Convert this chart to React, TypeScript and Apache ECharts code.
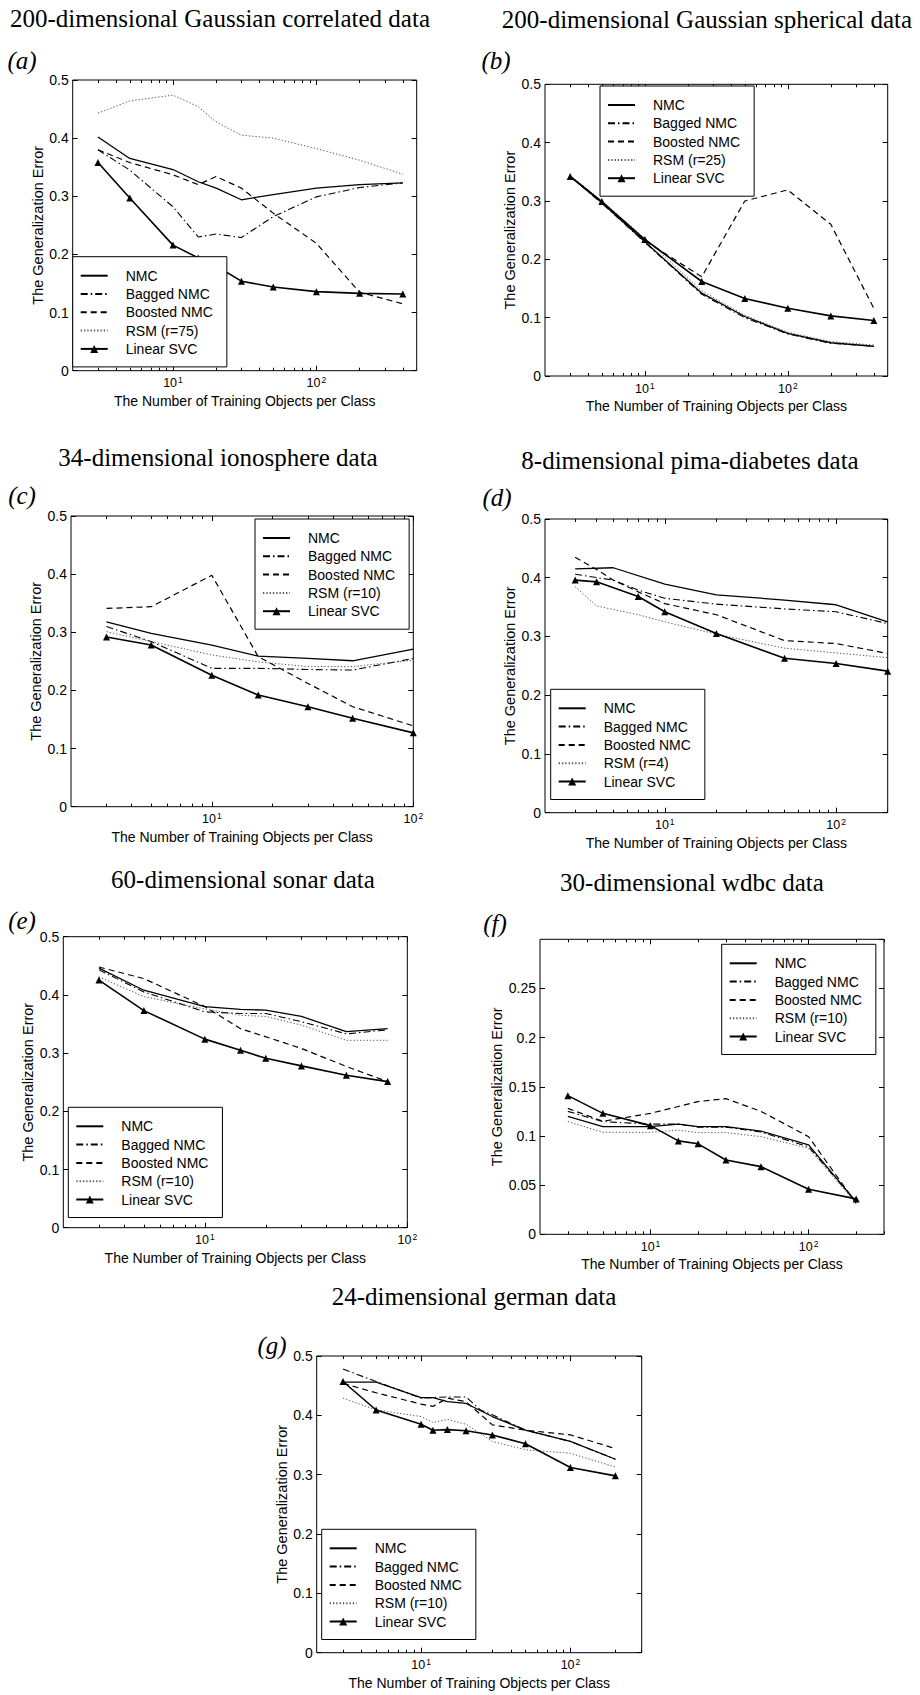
import React, { useEffect, useRef } from 'react';
import * as echarts from 'echarts';

const SANS = '"Liberation Sans", Arial, Helvetica, sans-serif';
const SERIF = '"Liberation Serif", "Times New Roman", serif';

// ---------- data ----------
const TITLES = [
  '200-dimensional Gaussian correlated data',
  '200-dimensional Gaussian spherical data',
  '34-dimensional ionosphere data',
  '8-dimensional pima-diabetes data',
  '60-dimensional sonar data',
  '30-dimensional wdbc data',
  '24-dimensional german data',
];
const LETTERS = ['(a)', '(b)', '(c)', '(d)', '(e)', '(f)', '(g)'];
const RSM_NAMES = ['RSM (r=75)', 'RSM (r=25)', 'RSM (r=10)', 'RSM (r=4)', 'RSM (r=10)', 'RSM (r=10)', 'RSM (r=10)'];
const X_MAX = [500, 500, 100, 200, 100, 300, 300];
const Y_MAX = [0.5, 0.5, 0.5, 0.5, 0.5, 0.3, 0.5];
const Y_STEP = [0.1, 0.1, 0.1, 0.1, 0.1, 0.05, 0.1];
const X_TICKS = [10, 100];
const X_MINOR = [3, 4, 5, 6, 7, 8, 9, 20, 30, 40, 50, 60, 70, 80, 90, 200, 300, 400];
const X_NAME = 'The Number of Training Objects per Class';
const Y_NAME = 'The Generalization Error';

// (a) Gaussian correlated
const A_X = [3, 5, 10, 15, 20, 30, 50, 100, 200, 400];
const A_NMC = [0.402, 0.365, 0.346, 0.325, 0.314, 0.294, 0.303, 0.314, 0.320, 0.323];
const A_BAG = [0.380, 0.345, 0.282, 0.230, 0.235, 0.229, 0.265, 0.299, 0.315, 0.323];
const A_BOO = [0.380, 0.358, 0.337, 0.320, 0.334, 0.314, 0.271, 0.219, 0.135, 0.115];
const A_RSM = [0.443, 0.464, 0.474, 0.454, 0.428, 0.405, 0.400, 0.382, 0.362, 0.338];
const A_SVC = [0.358, 0.297, 0.216, 0.194, 0.180, 0.154, 0.144, 0.136, 0.133, 0.132];

// (b) Gaussian spherical
const B_X = [3, 5, 10, 25, 50, 100, 200, 400];
const B_NMC = [0.342, 0.297, 0.230, 0.142, 0.102, 0.073, 0.057, 0.051];
const B_BAG = [0.342, 0.296, 0.229, 0.140, 0.100, 0.072, 0.056, 0.051];
const B_BOO = [0.342, 0.298, 0.232, 0.170, 0.300, 0.319, 0.260, 0.116];
const B_RSM = [0.344, 0.300, 0.236, 0.146, 0.104, 0.075, 0.059, 0.053];
const B_SVC = [0.342, 0.299, 0.234, 0.162, 0.133, 0.116, 0.103, 0.095];

// (c) ionosphere
const C_X = [3, 5, 10, 17, 30, 50, 100];
const C_NMC = [0.318, 0.298, 0.278, 0.259, 0.255, 0.251, 0.271];
const C_BAG = [0.310, 0.284, 0.238, 0.238, 0.236, 0.235, 0.255];
const C_BOO = [0.341, 0.344, 0.398, 0.258, 0.212, 0.172, 0.139];
const C_RSM = [0.301, 0.284, 0.261, 0.249, 0.241, 0.241, 0.252];
const C_SVC = [0.292, 0.278, 0.226, 0.192, 0.172, 0.152, 0.127];

// (d) pima-diabetes
const D_X_NMC = [3, 5, 10, 20, 50, 100, 200];
const D_NMC = [0.415, 0.417, 0.389, 0.371, 0.362, 0.354, 0.325];
const D_X_BAG = [3, 5, 7, 10, 20, 50, 100, 200];
const D_BAG = [0.406, 0.396, 0.379, 0.365, 0.355, 0.347, 0.342, 0.322];
const D_X_BOO = [3, 4, 5, 7, 10, 20, 50, 100, 200];
const D_BOO = [0.435, 0.414, 0.396, 0.376, 0.356, 0.337, 0.293, 0.288, 0.271];
const D_X = [3, 4, 7, 10, 20, 50, 100, 200];
const D_RSM = [0.385, 0.352, 0.337, 0.325, 0.304, 0.280, 0.272, 0.264];
const D_SVC = [0.396, 0.393, 0.368, 0.342, 0.305, 0.263, 0.254, 0.241];

// (e) sonar
const E_X = [3, 5, 10, 15, 20, 30, 50, 80];
const E_NMC = [0.446, 0.408, 0.380, 0.375, 0.374, 0.363, 0.337, 0.342];
const E_BAG = [0.443, 0.405, 0.371, 0.368, 0.368, 0.354, 0.333, 0.340];
const E_BOO = [0.448, 0.428, 0.380, 0.342, 0.328, 0.308, 0.277, 0.251];
const E_RSM = [0.431, 0.397, 0.376, 0.365, 0.363, 0.348, 0.322, 0.322];
const E_SVC = [0.4255, 0.373, 0.324, 0.305, 0.291, 0.278, 0.262, 0.251];

// (f) wdbc
const F_X = [3, 5, 10, 15, 20, 30, 50, 100, 200];
const F_NMC = [0.120, 0.1095, 0.1095, 0.112, 0.1095, 0.1095, 0.105, 0.091, 0.033];
const F_BAG = [0.125, 0.1146, 0.112, 0.112, 0.109, 0.109, 0.104, 0.089, 0.033];
const F_BOO = [0.128, 0.115, 0.123, 0.130, 0.135, 0.138, 0.125, 0.0993, 0.0315];
const F_RSM = [0.1146, 0.1037, 0.1037, 0.106, 0.1034, 0.1034, 0.0993, 0.0875, 0.0315];
const F_SVC = [0.141, 0.123, 0.1105, 0.095, 0.092, 0.0756, 0.0688, 0.0458, 0.036];

// (g) german
const G_X = [3, 5, 10, 12, 15, 20, 30, 50, 100, 200];
const G_NMC = [0.456, 0.456, 0.430, 0.430, 0.423, 0.420, 0.398, 0.375, 0.356, 0.326];
const G_X_BAG = [3, 5, 10, 12, 15, 20, 25, 30, 50, 100, 200];
const G_BAG = [0.478, 0.457, 0.429, 0.430, 0.431, 0.431, 0.409, 0.401, 0.375, 0.356, 0.326];
const G_BOO = [0.454, 0.438, 0.419, 0.415, 0.429, 0.423, 0.384, 0.375, 0.367, 0.344];
const G_RSM = [0.429, 0.409, 0.398, 0.388, 0.393, 0.385, 0.356, 0.342, 0.336, 0.313];
const G_SVC = [0.457, 0.409, 0.385, 0.375, 0.376, 0.374, 0.367, 0.352, 0.312, 0.298];

const PANEL_DATA = [
  [[A_X, A_NMC], [A_X, A_BAG], [A_X, A_BOO], [A_X, A_RSM], [A_X, A_SVC]],
  [[B_X, B_NMC], [B_X, B_BAG], [B_X, B_BOO], [B_X, B_RSM], [B_X, B_SVC]],
  [[C_X, C_NMC], [C_X, C_BAG], [C_X, C_BOO], [C_X, C_RSM], [C_X, C_SVC]],
  [[D_X_NMC, D_NMC], [D_X_BAG, D_BAG], [D_X_BOO, D_BOO], [D_X, D_RSM], [D_X, D_SVC]],
  [[E_X, E_NMC], [E_X, E_BAG], [E_X, E_BOO], [E_X, E_RSM], [E_X, E_SVC]],
  [[F_X, F_NMC], [F_X, F_BAG], [F_X, F_BOO], [F_X, F_RSM], [F_X, F_SVC]],
  [[G_X, G_NMC], [G_X_BAG, G_BAG], [G_X, G_BOO], [G_X, G_RSM], [G_X, G_SVC]],
];

// ---------- layout (pixels) ----------
const LAYOUT = [
  { grid: [72.7, 80, 344, 290.7], legend: [72.7, 256.7], title: [220, 18.5], letter: [22, 60], yGap: 24 },
  { grid: [545, 84.3, 342.7, 291.7], legend: [600, 86], title: [707, 19], letter: [496, 60], yGap: 24 },
  { grid: [71, 516, 342.3, 290.7], legend: [255, 519], title: [218, 457], letter: [22, 495], yGap: 24 },
  { grid: [545, 519, 342.7, 293.7], legend: [550.7, 689.3], title: [690, 460], letter: [497, 497], yGap: 24 },
  { grid: [63.3, 936.7, 344, 291], legend: [68.3, 1107.3], title: [243, 879], letter: [22, 920], yGap: 24 },
  { grid: [540, 939.3, 344, 295], legend: [721.7, 944.3], title: [692, 882.7], letter: [495, 923], yGap: 30 },
  { grid: [316.7, 1356, 325, 296.7], legend: [321.7, 1529.3], title: [474, 1296.7], letter: [272, 1345], yGap: 23 },
];

const STYLES = [
  { symbol: 'none', lineStyle: { color: '#000', width: 1.3, type: 'solid' }, itemStyle: { color: '#000' } },
  { symbol: 'none', lineStyle: { color: '#000', width: 1.1, type: [7, 3, 1.5, 3] }, itemStyle: { color: '#000' } },
  { symbol: 'none', lineStyle: { color: '#000', width: 1.2, type: [6, 4] }, itemStyle: { color: '#000' } },
  { symbol: 'none', lineStyle: { color: '#555', width: 1, type: [1.3, 2] }, itemStyle: { color: '#555' } },
  { symbol: 'triangle', symbolSize: 7, lineStyle: { color: '#000', width: 1.6, type: 'solid' }, itemStyle: { color: '#000' } },
];

function buildOption() {
  const grid: any[] = [];
  const xAxis: any[] = [];
  const yAxis: any[] = [];
  const legend: any[] = [];
  const series: any[] = [];
  const graphic: any[] = [];

  LAYOUT.forEach((L, i) => {
    const [gl, gt, gw, gh] = L.grid;
    grid.push({ left: gl, top: gt, width: gw, height: gh, show: true, borderColor: '#000', borderWidth: 1, backgroundColor: 'transparent' });
    const base = { type: 'log', logBase: 10, min: 2, max: X_MAX[i], gridIndex: i, axisLine: { show: false }, splitLine: { show: false }, silent: true };
    xAxis.push({
      ...base, position: 'bottom',
      axisTick: { show: true, inside: true, length: 5, customValues: X_TICKS, lineStyle: { color: '#000' } },
      axisLabel: {
        show: true, customValues: X_TICKS, margin: 5, color: '#000',
        formatter: (v: number) => `{b|10}{s|${Math.round(Math.log10(v))}}`,
        rich: {
          b: { fontFamily: SANS, fontSize: 12.5, color: '#000' },
          s: { fontFamily: SANS, fontSize: 8.5, color: '#000', verticalAlign: 'top', padding: [0, 0, 6, 1] },
        },
      },
      name: X_NAME, nameLocation: 'middle', nameGap: 23,
      nameTextStyle: { fontFamily: SANS, fontSize: 14, color: '#000' },
    });
    xAxis.push({ ...base, position: 'bottom', axisTick: { show: true, inside: true, length: 3, customValues: X_MINOR, lineStyle: { color: '#000' } }, axisLabel: { show: false } });
    xAxis.push({ ...base, position: 'top', axisTick: { show: true, inside: true, length: 5, customValues: X_TICKS, lineStyle: { color: '#000' } }, axisLabel: { show: false } });
    xAxis.push({ ...base, position: 'top', axisTick: { show: true, inside: true, length: 3, customValues: X_MINOR, lineStyle: { color: '#000' } }, axisLabel: { show: false } });

    const yBase = { type: 'value', min: 0, max: Y_MAX[i], interval: Y_STEP[i], gridIndex: i, axisLine: { show: false }, splitLine: { show: false }, silent: true };
    yAxis.push({
      ...yBase, position: 'left',
      axisTick: { show: true, inside: true, length: 5, lineStyle: { color: '#000' } },
      axisLabel: { show: true, margin: 4, color: '#000', fontFamily: SANS, fontSize: 14, showMaxLabel: Y_MAX[i] === 0.5 },
      name: Y_NAME, nameLocation: 'middle', nameGap: L.yGap, nameRotate: 90,
      nameTextStyle: { fontFamily: SANS, fontSize: 14.5, color: '#000' },
    });
    yAxis.push({ ...yBase, position: 'right', axisTick: { show: true, inside: true, length: 5, lineStyle: { color: '#000' } }, axisLabel: { show: false } });

    const names = ['NMC', 'Bagged NMC', 'Boosted NMC', RSM_NAMES[i], 'Linear SVC'];
    PANEL_DATA[i].forEach((pair, k) => {
      const [xs, ys] = pair;
      series.push({
        type: 'line', name: names[k], xAxisIndex: i * 4, yAxisIndex: i * 2,
        data: xs.map((x, j) => [x, ys[j]]),
        ...STYLES[k], silent: true, emphasis: { disabled: true }, z: k === 4 ? 3 : 2,
      });
    });

    legend.push({
      orient: 'vertical', left: L.legend[0], top: L.legend[1],
      data: names.map((n, k) => (k === 4 ? { name: n } : { name: n, itemStyle: { opacity: 0, color: 'rgba(0,0,0,0)', borderWidth: 0 } })),
      backgroundColor: '#fff', borderColor: '#000', borderWidth: 1, borderRadius: 0,
      padding: [11, 14, 10, 7], itemWidth: 27, itemHeight: 10, itemGap: 2.3,
      selectedMode: false,
      textStyle: { fontFamily: SANS, fontSize: 14, color: '#000', lineHeight: 16, padding: [0, 0, 0, 13] },
    });

    graphic.push({
      type: 'text', x: L.title[0], y: L.title[1], silent: true,
      style: { text: TITLES[i], fontFamily: SERIF, fontSize: 25, fill: '#000', align: 'center', verticalAlign: 'middle', textAlign: 'center', textVerticalAlign: 'middle' },
    });
    graphic.push({
      type: 'text', x: L.letter[0], y: L.letter[1], silent: true,
      style: { text: LETTERS[i], fontFamily: SERIF, fontStyle: 'italic', fontSize: 25, fill: '#000', align: 'center', verticalAlign: 'middle', textAlign: 'center', textVerticalAlign: 'middle' },
    });
  });

  return { animation: false, backgroundColor: '#fff', grid, xAxis, yAxis, legend, series, graphic };
}

export default function App() {
  const ref = useRef<HTMLDivElement>(null);
  useEffect(() => {
    if (!ref.current) return;
    const chart = echarts.init(ref.current, undefined, { renderer: 'svg' });
    chart.setOption(buildOption() as any);
    return () => chart.dispose();
  }, []);
  return <div ref={ref} style={{ position: 'absolute', left: 0, top: 0, width: 920, height: 1695 }} />;
}
